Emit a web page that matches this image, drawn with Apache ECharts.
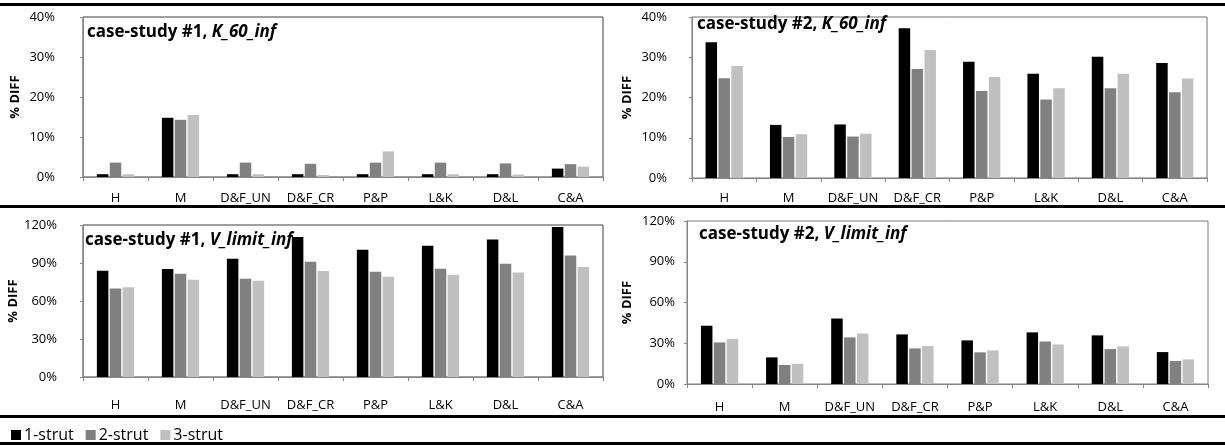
<!DOCTYPE html>
<html>
<head>
<meta charset="utf-8">
<script src="https://cdn.jsdelivr.net/npm/echarts@6/dist/echarts.min.js"></script>
<style>
html,body{margin:0;padding:0;background:#fff;}
#c{width:1225px;height:448px;}
</style>
</head>
<body>
<div id="c"></div>
<script>
// ---- data (percent) ----
const categories = ['H','M','D&F_UN','D&F_CR','P&P','L&K','D&L','C&A'];
const seriesNames = ['1-strut','2-strut','3-strut'];

// case-study #1, K_60_inf
const cs1K_1 = [0.7, 14.8, 0.7, 0.7, 0.7, 0.7, 0.7, 2.1];
const cs1K_2 = [3.6, 14.3, 3.6, 3.3, 3.6, 3.6, 3.4, 3.2];
const cs1K_3 = [0.7, 15.5, 0.7, 0.5, 6.4, 0.7, 0.6, 2.6];

// case-study #2, K_60_inf
const cs2K_1 = [33.7, 13.2, 13.3, 37.2, 28.9, 25.9, 30.1, 28.6];
const cs2K_2 = [24.8, 10.2, 10.3, 27.1, 21.6, 19.5, 22.3, 21.3];
const cs2K_3 = [27.8, 10.9, 11.0, 31.8, 25.1, 22.3, 25.9, 24.7];

// case-study #1, V_limit_inf
const cs1V_1 = [83.9, 85.2, 93.4, 110.6, 100.5, 103.7, 108.5, 118.5];
const cs1V_2 = [69.8, 81.5, 77.5, 91.0, 83.1, 85.4, 89.4, 96.0];
const cs1V_3 = [70.9, 76.7, 75.9, 83.6, 79.1, 80.7, 82.5, 86.8];

// case-study #2, V_limit_inf
const cs2V_1 = [42.9, 19.6, 48.2, 36.5, 32.1, 38.0, 35.8, 23.5];
const cs2V_2 = [30.6, 14.0, 34.3, 26.2, 23.3, 31.3, 25.7, 16.9];
const cs2V_3 = [33.1, 14.9, 37.2, 27.9, 24.7, 29.1, 27.7, 18.1];

const yMaxK = 40, yIntK = 10;
const yMaxV = 120, yIntV = 30;

const panelTitles = [
  ['case-study #1, ', 'K_60_inf'],
  ['case-study #2, ', 'K_60_inf'],
  ['case-study #1, ', 'V_limit_inf'],
  ['case-study #2, ', 'V_limit_inf']
];
// ---- layout ----
const FONT = 'Open Sans';
const colors = ['#000000', '#808080', '#c0c0c0'];
const grids = [
  {left: 83, top: 17, width: 520, height: 160},
  {left: 692, top: 17, width: 515, height: 161},
  {left: 83, top: 225, width: 520, height: 152},
  {left: 687, top: 221, width: 521, height: 163}
];
const panelData = [
  [cs1K_1, cs1K_2, cs1K_3],
  [cs2K_1, cs2K_2, cs2K_3],
  [cs1V_1, cs1V_2, cs1V_3],
  [cs2V_1, cs2V_2, cs2V_3]
];
const yMax = [yMaxK, yMaxK, yMaxV, yMaxV];
const yInt = [yIntK, yIntK, yIntV, yIntV];
const titlePos = [[87, 24], [697, 16], [85, 232], [699, 226]];
const yNameGap = [61, 58, 61, 53];
const yLabelMargin = [28, 25, 26, 12];
const xLabelMargin = [15, 14, 22, 17];
const borderColors = ['#404040', '#6e6e6e', '#404040', '#7a7a7a'];

const option = {
  animation: false,
  textStyle: {fontFamily: FONT},
  grid: grids.map((g, i) => Object.assign({show: true, borderColor: borderColors[i], borderWidth: 1, backgroundColor: 'transparent'}, g)),
  xAxis: grids.map((g, i) => ({
    type: 'category', gridIndex: i, data: categories,
    axisLine: {lineStyle: {color: '#868686'}},
    axisTick: {show: true, length: 4, lineStyle: {color: '#868686'}},
    axisLabel: {color: '#000', fontSize: 13, fontFamily: FONT, margin: xLabelMargin[i], interval: 0}
  })),
  yAxis: grids.map((g, i) => ({
    type: 'value', gridIndex: i, min: 0, max: yMax[i], interval: yInt[i],
    name: '% DIFF', nameLocation: 'middle', nameGap: yNameGap[i], nameRotate: 90,
    nameTextStyle: {fontWeight: 'bold', fontSize: 13, color: '#000', fontFamily: FONT},
    axisLine: {show: true, lineStyle: {color: '#868686'}},
    axisTick: {show: true, length: 3, lineStyle: {color: '#868686'}},
    splitLine: {show: false},
    axisLabel: {formatter: '{value}%', color: '#000', fontSize: 13, fontFamily: FONT, margin: yLabelMargin[i]}
  })),
  title: panelTitles.map((t, i) => ({
    text: '{b|' + t[0] + '}{bi|' + t[1] + '}',
    left: titlePos[i][0], top: titlePos[i][1], padding: 0,
    textStyle: {rich: {
      b: {fontWeight: 'bold', fontSize: 17, color: '#000', fontFamily: FONT},
      bi: {fontWeight: 'bold', fontStyle: 'italic', fontSize: 17, color: '#000', fontFamily: FONT}
    }}
  })),
  legend: {
    left: 6, top: 422, itemWidth: 10, itemHeight: 10, itemGap: 12,
    icon: 'rect',
    textStyle: {fontSize: 16, color: '#000', fontFamily: FONT, padding: [0, 0, 0, -2]},
    data: seriesNames
  },
  graphic: [
    {type: 'rect', shape: {x: 0, y: 3, width: 1225, height: 3}, style: {fill: '#000'}},
    {type: 'rect', shape: {x: 0, y: 205, width: 1225, height: 3}, style: {fill: '#000'}},
    {type: 'rect', shape: {x: 0, y: 415, width: 1225, height: 3}, style: {fill: '#000'}},
    {type: 'rect', shape: {x: 0, y: 442, width: 1225, height: 3}, style: {fill: '#000'}}
  ],
  series: []
};
panelData.forEach((arrs, p) => {
  arrs.forEach((arr, s) => {
    option.series.push({
      type: 'bar', name: seriesNames[s], xAxisIndex: p, yAxisIndex: p,
      data: arr, barWidth: 11.5, barGap: '12%',
      itemStyle: {color: colors[s]}
    });
  });
});
const chart = echarts.init(document.getElementById('c'), null, {renderer: 'canvas'});
chart.setOption(option);
</script>
</body>
</html>
